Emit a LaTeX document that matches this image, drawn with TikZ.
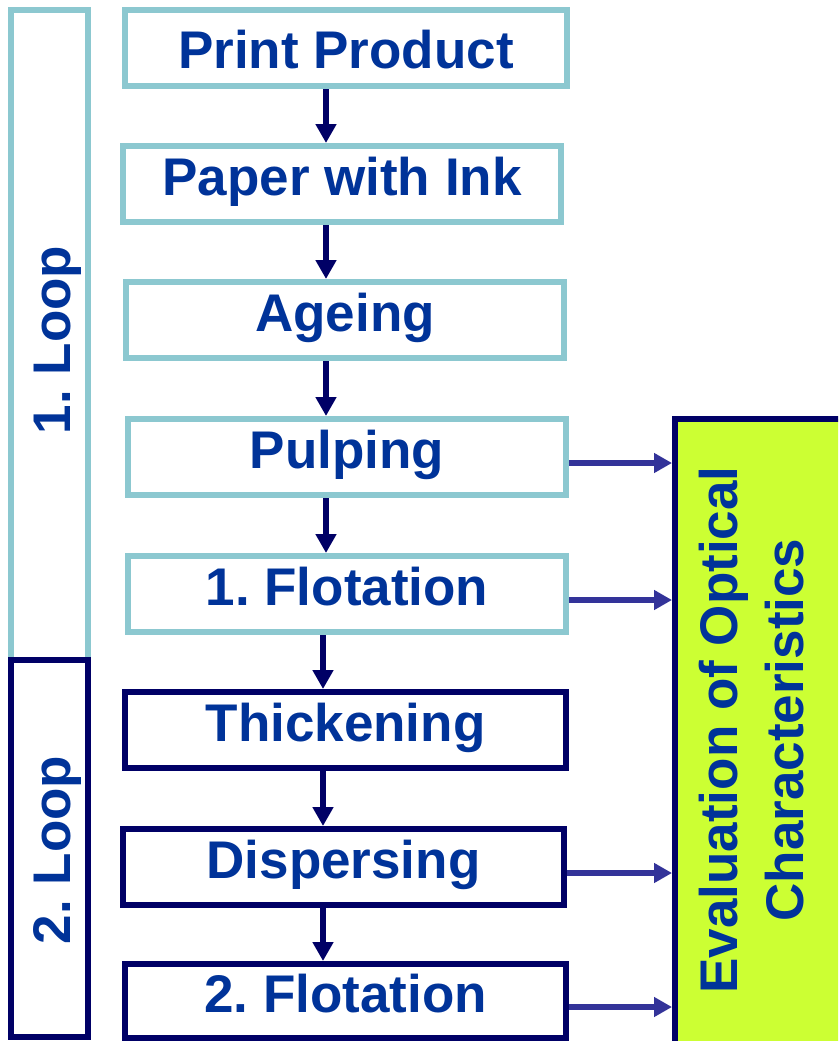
\documentclass[tikz,border=0pt]{standalone}
\usepackage{fontspec}
\setmainfont{Liberation Sans}
\usetikzlibrary{arrows.meta}
\frenchspacing
\definecolor{loopteal}{RGB}{140,200,208}
\definecolor{navy}{HTML}{000066}
\definecolor{labelblue}{HTML}{003399}
\definecolor{linkblue}{HTML}{333399}
\definecolor{evalgreen}{HTML}{CCFF33}
\begin{document}
\begin{tikzpicture}[x=1pt,y=-1pt,
  every node/.style={font=\fontsize{53}{64}\selectfont\bfseries\frenchspacing, text=labelblue, inner sep=0pt, outer sep=0pt},
  stage/.style={draw, line width=6pt, fill=white, minimum height=76pt,
                text height=38pt, text depth=16pt, outer sep=3pt},
  firstloop/.style={stage, draw=loopteal},
  secondloop/.style={stage, draw=navy},
  loopbar/.style={draw, line width=6pt, minimum width=77pt},
  looplabel/.style={rotate=90, text height=38pt, text depth=16pt},
  flow/.style={draw=navy, line width=6.5pt, -{Triangle[length=19pt,width=20pt]}},
  feed/.style={draw=linkblue, line width=6pt, -{Triangle[length=18pt,width=19pt]}}]

\useasboundingbox (0,0) rectangle (838,1041);
\clip (0,0) rectangle (838,1041);

% loop brackets on the left
\node[loopbar, draw=loopteal, minimum height=650pt] (loopA) at (49.5,335) {};
\node[loopbar, draw=navy, minimum height=377pt] (loopB) at (49.5,848.5) {};
\node[looplabel] (loopAlabel) at (59,340) {1. Loop};
\node[looplabel] (loopBlabel) at (59,850) {2. Loop};

% evaluation panel on the right
\node[draw=navy, fill=evalgreen, line width=6pt, minimum width=175pt,
      minimum height=631pt, outer sep=3pt] (ev) at (762.5,734.5) {};
\node[rotate=90, anchor=base] (evA) at (737,730) {Evaluation of Optical};
\node[rotate=90, anchor=base] (evB) at (803,730) {Characteristics};

% process stages
\node[firstloop, minimum width=442pt, text height=40pt, text depth=0pt] (pp) at (346,48) {Print Product};
\node[firstloop, minimum width=438pt] (pw) at (342,184) {Paper with Ink};
\node[firstloop, minimum width=438pt] (ag) at (345,320) {Ageing};
\node[firstloop, minimum width=438pt] (pu) at (347,457) {Pulping};
\node[firstloop, minimum width=438pt] (f1) at (347,594) {1. Flotation};
\node[secondloop, minimum width=441pt] (th) at (345.5,730) {Thickening};
\node[secondloop, minimum width=441pt] (di) at (343.5,867) {Dispersing};
\node[secondloop, minimum width=441pt, minimum height=74pt] (f2) at (345.5,1001) {2. Flotation};

% flow between stages
\coordinate (axA) at (326,0);
\coordinate (axB) at (323,0);
\draw[flow] (pp.south -| axA) -- (pw.north -| axA);
\draw[flow] (pw.south -| axA) -- (ag.north -| axA);
\draw[flow] (ag.south -| axA) -- (pu.north -| axA);
\draw[flow] (pu.south -| axA) -- (f1.north -| axA);
\draw[flow] (f1.south -| axB) -- (th.north -| axB);
\draw[flow] (th.south -| axB) -- (di.north -| axB);
\draw[flow] (di.south -| axB) -- (f2.north -| axB);

% samples taken for evaluation
\draw[feed] ([yshift=-6pt]pu.east) -- ([yshift=-6pt]pu.east -| ev.west);
\draw[feed] ([yshift=-6pt]f1.east) -- ([yshift=-6pt]f1.east -| ev.west);
\draw[feed] ([yshift=-6pt]di.east) -- ([yshift=-6pt]di.east -| ev.west);
\draw[feed] ([yshift=-6pt]f2.east) -- ([yshift=-6pt]f2.east -| ev.west);
\end{tikzpicture}
\end{document}
